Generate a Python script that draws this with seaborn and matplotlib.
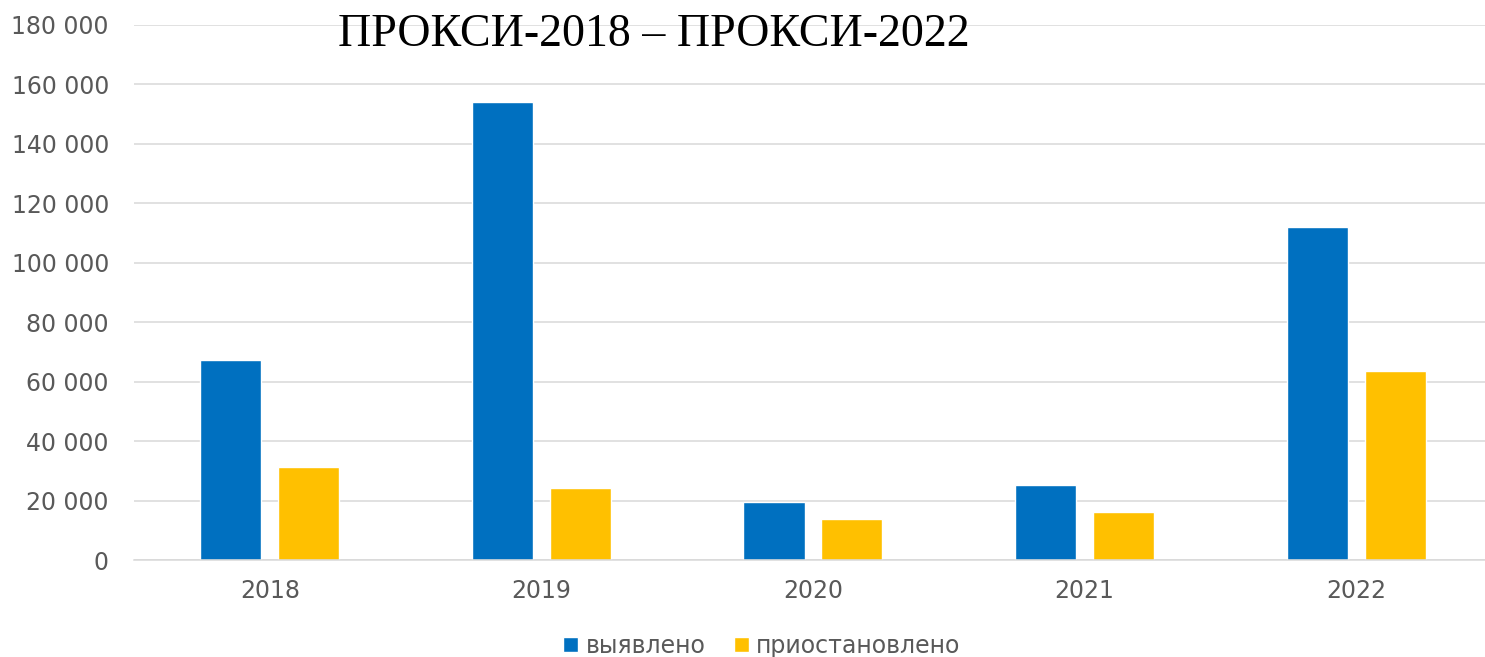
import pandas as pd
import matplotlib
matplotlib.use('Agg')
import matplotlib.pyplot as plt
import seaborn as sns
from matplotlib.ticker import FuncFormatter, MultipleLocator

# Dane
years = ['2018', '2019', '2020', '2021', '2022']
vyyavleno = [67200, 154000, 19500, 25200, 111800]
priostanovleno = [31200, 24300, 13700, 16300, 63400]
series_names = ['выявлено', 'приостановлено']
title_text = 'ПРОКСИ-2018 – ПРОКСИ-2022'

df = pd.DataFrame({
    'year': years * 2,
    'value': vyyavleno + priostanovleno,
    'series': [series_names[0]] * len(years) + [series_names[1]] * len(years),
})

sns.set_theme(style='white')
plt.rcParams['font.family'] = ['DejaVu Sans']

fig = plt.figure(figsize=(14.85, 6.57), dpi=100)
# osie wychodzą poza prawą krawędź (wykres przycięty jak w oryginale)
ax = fig.add_axes([0.0902, 0.1476, 0.9145, 0.815])

palette = {series_names[0]: '#0070C0', series_names[1]: '#FFC000'}
sns.barplot(data=df, x='year', y='value', hue='series', palette=palette,
            width=0.574, gap=0.216, ax=ax, saturation=1)

ax.set_xlim(-0.5, len(years) - 0.5)
ax.set_ylim(0, 180000)
ax.yaxis.set_major_locator(MultipleLocator(20000))
ax.yaxis.set_major_formatter(FuncFormatter(lambda v, p: f'{int(v):,}'.replace(',', ' ')))
ax.grid(axis='y', color='#d9d9d9', linewidth=1.1)
ax.set_axisbelow(True)
for s in ['top', 'right', 'left']:
    ax.spines[s].set_visible(False)
ax.spines['bottom'].set_color('#d9d9d9')
ax.spines['bottom'].set_linewidth(1.1)
ax.tick_params(axis='both', length=0, labelsize=17, colors='#595959')
ax.tick_params(axis='x', pad=14)
ax.tick_params(axis='y', pad=18)
ax.set_xlabel('')
ax.set_ylabel('')

leg = ax.legend(loc='center', bbox_to_anchor=(0.513, 0.017), bbox_transform=fig.transFigure,
                ncol=2, frameon=False, fontsize=17, labelcolor='#595959',
                handlelength=0.65, handleheight=0.65, handletextpad=0.3, columnspacing=1.2)

fig.text(0.44, 0.947, title_text, ha='center', va='center',
         family='Liberation Serif', fontsize=33, color='black')

fig.savefig('out.png', dpi=100)
